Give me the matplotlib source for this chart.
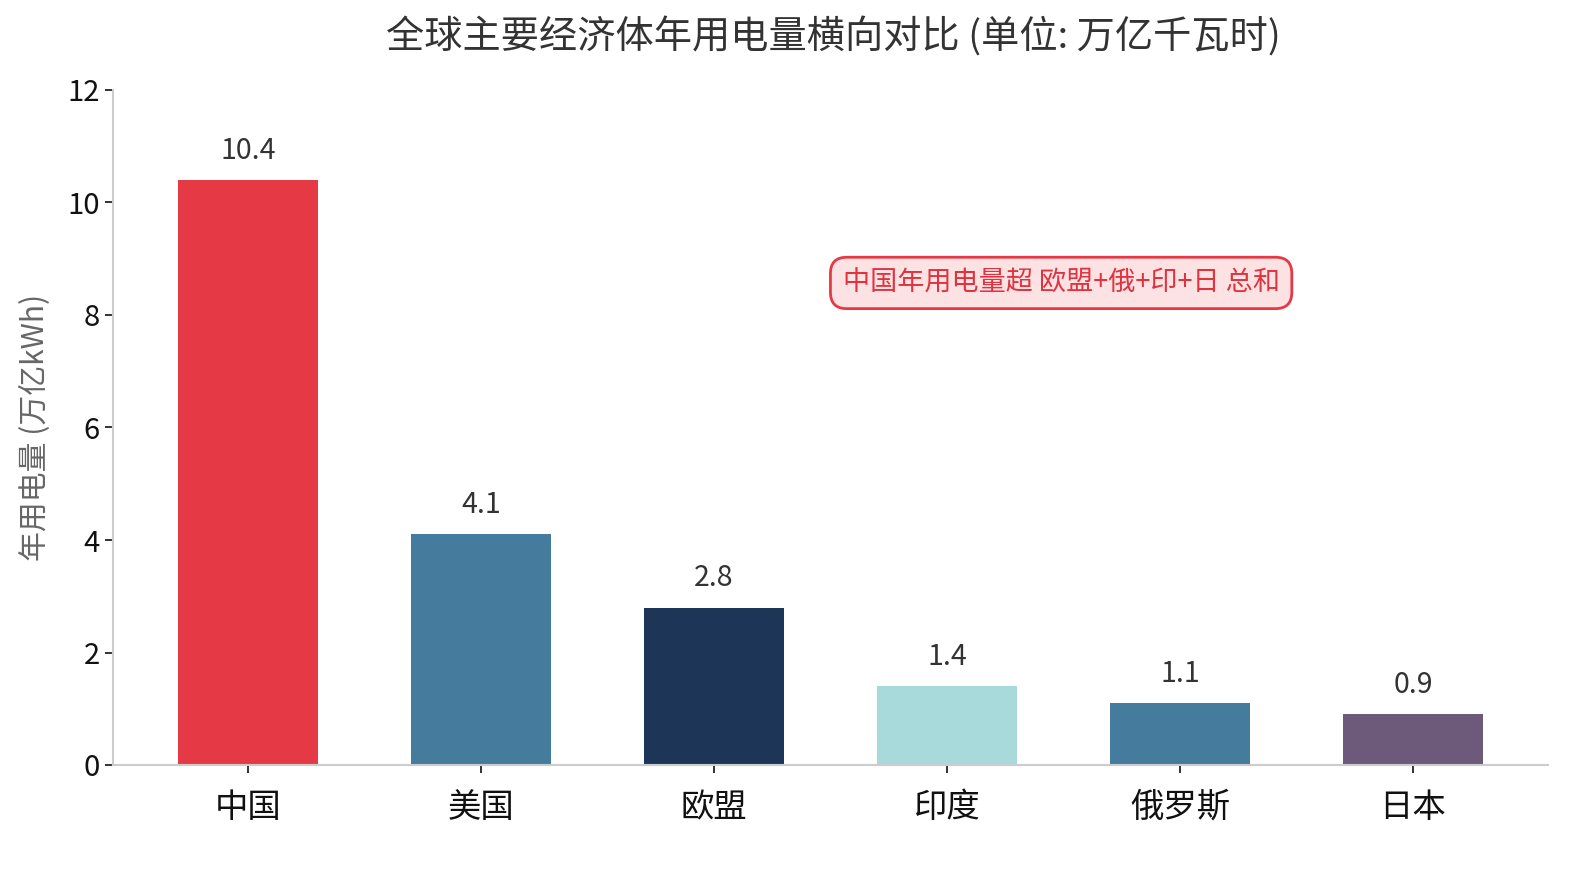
import matplotlib
matplotlib.use('Agg')
import matplotlib.pyplot as plt

plt.rcParams['font.family'] = ['Noto Sans CJK SC', 'DejaVu Sans']

# data
countries = ['中国', '美国', '欧盟', '印度', '俄罗斯', '日本']
usage = [10.4, 4.1, 2.8, 1.4, 1.1, 0.9]
colors = ['#E63946', '#457B9D', '#1D3557', '#A8DADC', '#457B9D', '#6D597A']
yticks = [0, 2, 4, 6, 8, 10, 12]

fig = plt.figure(figsize=(15.8, 8.8), dpi=100)
ax = fig.add_axes([113 / 1580, 1 - 765 / 880, (1548 - 113) / 1580, (765 - 90) / 880])

x = list(range(len(countries)))
ax.bar(x, usage, width=0.6, color=colors)

# value labels above bars
for xi, v in zip(x, usage):
    ax.text(xi, v + 0.25, f'{v}', ha='center', va='bottom', fontsize=20.5, color='#333333')

ax.set_xlim(-0.58, 5.58)
ax.set_ylim(0, 12)
ax.set_yticks(yticks)
ax.set_xticks(x)
ax.set_xticklabels(countries, fontsize=24)
ax.tick_params(axis='y', labelsize=21, length=6, width=1.2, colors='#111111')
ax.tick_params(axis='x', length=6, width=1.2, colors='#111111', pad=12)

for s in ['top', 'right']:
    ax.spines[s].set_visible(False)
for s in ['left', 'bottom']:
    ax.spines[s].set_color('#cccccc')
    ax.spines[s].set_linewidth(1.5)

ax.set_ylabel('年用电量 (万亿kWh)', fontsize=21.5, color='#666666', labelpad=12)
fig.suptitle('全球主要经济体年用电量横向对比 (单位: 万亿千瓦时)', fontsize=27.5,
             color='#333333', x=(113 + 1548) / 2 / 1580 + 0.002, y=1 - 38 / 880, va='center')

ax.text(3.49, 8.57, '中国年用电量超 欧盟+俄+印+日 总和', ha='center', va='center',
        fontsize=19.5, color='#E0323F',
        bbox=dict(boxstyle='round,pad=0.45,rounding_size=0.6', fc='#FDE2E4', ec='#E63946', lw=2))

fig.savefig('out.png', dpi=100)
